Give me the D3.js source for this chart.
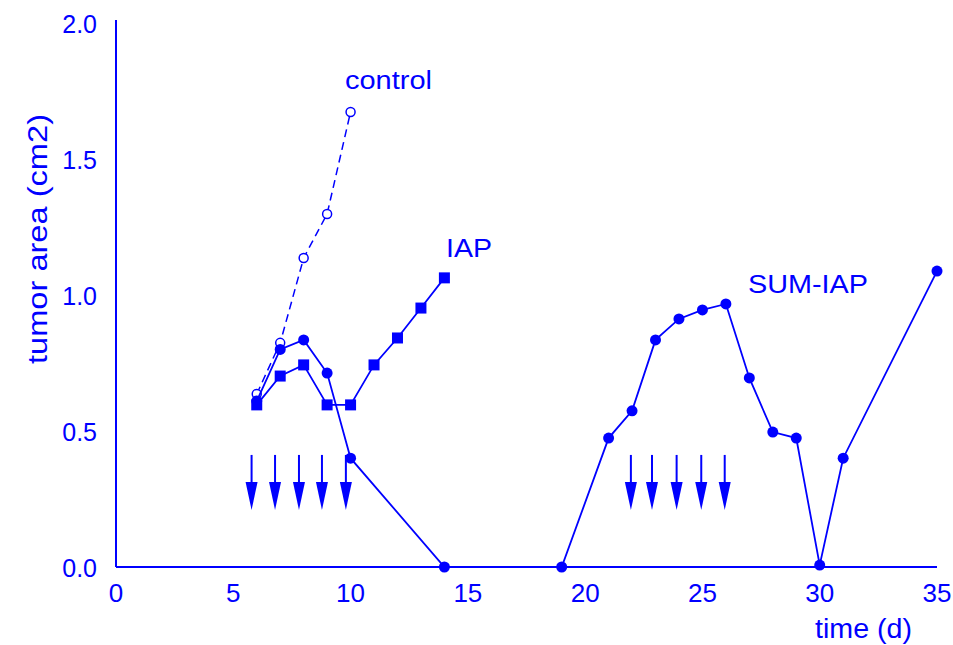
<!doctype html>
<html>
<head>
<script src="https://d3js.org/d3.v7.min.js"></script>
<style>
  body { margin: 0; background: #fff; }
  text { font-family: "Liberation Sans", Arial, sans-serif; fill: #0000ff; }
</style>
</head>
<body>
<svg id="chart" width="953" height="645"></svg>
<script>
// data
var controlDays = [6, 7, 8, 9, 10]
var controlArea = [0.636, 0.824, 1.136, 1.298, 1.673]
var iapDays = [6, 7, 8, 9, 10, 11, 12, 13, 14]
var iapArea = [0.596, 0.702, 0.743, 0.596, 0.596, 0.743, 0.842, 0.952, 1.063]
var sumDays = [6, 7, 8, 9, 10, 14, 19, 21, 22, 23, 24, 25, 26, 27, 28, 29, 30, 31, 35]
var sumArea = [0.61, 0.80, 0.835, 0.713, 0.40, 0, 0, 0.474, 0.574, 0.835, 0.912, 0.945, 0.967, 0.695, 0.496, 0.474, 0.007, 0.40, 1.088]
var arrowDays = [5.78, 6.78, 7.8, 8.78, 9.8, 21.95, 22.85, 23.9, 24.95, 25.95]
var arrowTop = 0.412, arrowTip = 0.21
var xTicks = [0, 5, 10, 15, 20, 25, 30, 35]
var yTicks = [0, 0.5, 1.0, 1.5, 2.0]

var blue = "#0000ff"
var svg = d3.select("#chart")
var x = d3.scaleLinear().domain([0, 35]).range([116, 937])
var y = d3.scaleLinear().domain([0, 2]).range([567, 23])

// axes: plain lines, no tick marks
svg.append("line").attr("x1", x(0)).attr("x2", x(0)).attr("y1", y(2) - 3).attr("y2", y(0))
    .attr("stroke", blue).attr("stroke-width", 2)
svg.append("line").attr("x1", x(0)).attr("x2", x(35)).attr("y1", y(0)).attr("y2", y(0))
    .attr("stroke", blue).attr("stroke-width", 2)

svg.selectAll(".xt").data(xTicks).enter().append("text")
    .attr("x", d => x(d)).attr("y", 602).attr("text-anchor", "middle")
    .attr("font-size", 26).text(d => d)
svg.selectAll(".yt").data(yTicks).enter().append("text")
    .attr("x", 97).attr("y", d => y(d) + 10).attr("text-anchor", "end")
    .attr("font-size", 25).text(d => d.toFixed(1))

svg.append("text").attr("transform", "translate(47,239) rotate(-90)")
    .attr("text-anchor", "middle").attr("font-size", 27)
    .attr("textLength", 250).attr("lengthAdjust", "spacingAndGlyphs").text("tumor area (cm2)")
svg.append("text").attr("x", 815).attr("y", 638)
    .attr("font-size", 27).attr("textLength", 97).attr("lengthAdjust", "spacingAndGlyphs").text("time (d)")

var line = d3.line().x(d => x(d[0])).y(d => y(d[1]))

// control
var ctlPts = d3.zip(controlDays, controlArea)
svg.append("path").attr("d", line(ctlPts)).attr("fill", "none")
    .attr("stroke", blue).attr("stroke-width", 1.5).attr("stroke-dasharray", "8,5")
svg.selectAll(".cp").data(ctlPts).enter().append("circle")
    .attr("cx", d => x(d[0])).attr("cy", d => y(d[1])).attr("r", 4.5)
    .attr("fill", "#fff").attr("stroke", blue).attr("stroke-width", 1.5)

// IAP
var iapPts = d3.zip(iapDays, iapArea)
svg.append("path").attr("d", line(iapPts)).attr("fill", "none")
    .attr("stroke", blue).attr("stroke-width", 1.8)
svg.selectAll(".ip").data(iapPts).enter().append("rect")
    .attr("x", d => x(d[0]) - 5.5).attr("y", d => y(d[1]) - 5.5)
    .attr("width", 11).attr("height", 11).attr("fill", blue)

// SUM-IAP
var sumPts = d3.zip(sumDays, sumArea)
svg.append("path").attr("d", line(sumPts)).attr("fill", "none")
    .attr("stroke", blue).attr("stroke-width", 1.8)
svg.selectAll(".sp").data(sumPts).enter().append("circle")
    .attr("cx", d => x(d[0])).attr("cy", d => y(d[1])).attr("r", 5.5).attr("fill", blue)

// treatment arrows
var arrows = svg.selectAll(".ar").data(arrowDays).enter().append("g")
arrows.append("line").attr("x1", d => x(d)).attr("x2", d => x(d))
    .attr("y1", y(arrowTop)).attr("y2", y(arrowTip) - 20)
    .attr("stroke", blue).attr("stroke-width", 2)
arrows.append("path").attr("fill", blue)
    .attr("d", d => "M" + (x(d) - 6) + "," + (y(arrowTip) - 28) + "L" + (x(d) + 6) + "," + (y(arrowTip) - 28) + "L" + x(d) + "," + y(arrowTip) + "Z")

svg.append("text").attr("x", 345).attr("y", 89).attr("font-size", 26)
    .attr("textLength", 87).attr("lengthAdjust", "spacingAndGlyphs").text("control")
svg.append("text").attr("x", 446).attr("y", 257).attr("font-size", 26)
    .attr("textLength", 46).attr("lengthAdjust", "spacingAndGlyphs").text("IAP")
svg.append("text").attr("x", 748).attr("y", 293).attr("font-size", 26)
    .attr("textLength", 120).attr("lengthAdjust", "spacingAndGlyphs").text("SUM-IAP")
</script>
</body>
</html>
